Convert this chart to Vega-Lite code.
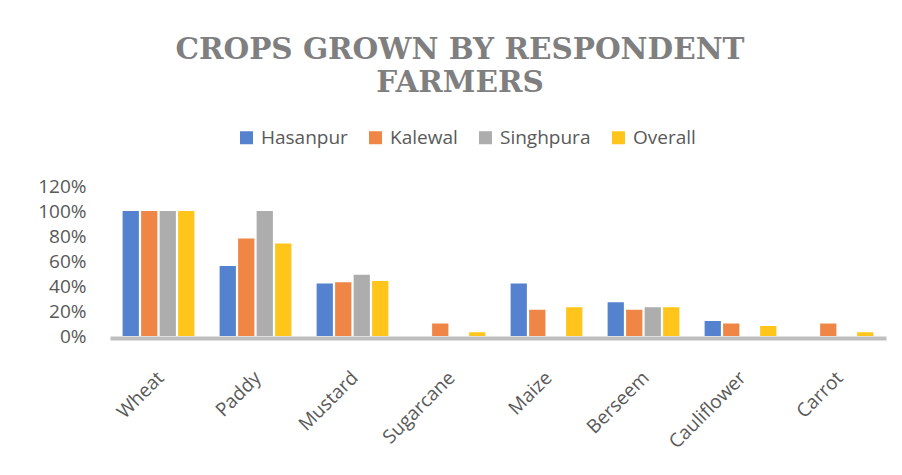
{
  "$schema": "https://vega.github.io/schema/vega-lite/v6.json",
  "autosize": "none",
  "width": 776,
  "height": 150,
  "padding": {"left": 110, "top": 186, "right": 16, "bottom": 139},
  "background": "white",
  "config": {"view": {"stroke": null}},
  "title": {
    "text": ["CROPS GROWN BY RESPONDENT", "FARMERS"],
    "font": "DejaVu Serif",
    "fontSize": 29.5,
    "fontWeight": "bold",
    "color": "#7F7F7F",
    "lineHeight": 33,
    "anchor": "middle",
    "dx": -38,
    "offset": 30
  },
  "data": {
    "values": [
      {"crop": "Wheat", "site": "Hasanpur", "share": 1.0},
      {"crop": "Wheat", "site": "Kalewal", "share": 1.0},
      {"crop": "Wheat", "site": "Singhpura", "share": 1.0},
      {"crop": "Wheat", "site": "Overall", "share": 1.0},
      {"crop": "Paddy", "site": "Hasanpur", "share": 0.56},
      {"crop": "Paddy", "site": "Kalewal", "share": 0.78},
      {"crop": "Paddy", "site": "Singhpura", "share": 1.0},
      {"crop": "Paddy", "site": "Overall", "share": 0.74},
      {"crop": "Mustard", "site": "Hasanpur", "share": 0.42},
      {"crop": "Mustard", "site": "Kalewal", "share": 0.43},
      {"crop": "Mustard", "site": "Singhpura", "share": 0.49},
      {"crop": "Mustard", "site": "Overall", "share": 0.44},
      {"crop": "Sugarcane", "site": "Hasanpur", "share": 0},
      {"crop": "Sugarcane", "site": "Kalewal", "share": 0.1},
      {"crop": "Sugarcane", "site": "Singhpura", "share": 0},
      {"crop": "Sugarcane", "site": "Overall", "share": 0.03},
      {"crop": "Maize", "site": "Hasanpur", "share": 0.42},
      {"crop": "Maize", "site": "Kalewal", "share": 0.21},
      {"crop": "Maize", "site": "Singhpura", "share": 0},
      {"crop": "Maize", "site": "Overall", "share": 0.23},
      {"crop": "Berseem", "site": "Hasanpur", "share": 0.27},
      {"crop": "Berseem", "site": "Kalewal", "share": 0.21},
      {"crop": "Berseem", "site": "Singhpura", "share": 0.23},
      {"crop": "Berseem", "site": "Overall", "share": 0.23},
      {"crop": "Cauliflower", "site": "Hasanpur", "share": 0.12},
      {"crop": "Cauliflower", "site": "Kalewal", "share": 0.1},
      {"crop": "Cauliflower", "site": "Singhpura", "share": 0},
      {"crop": "Cauliflower", "site": "Overall", "share": 0.08},
      {"crop": "Carrot", "site": "Hasanpur", "share": 0},
      {"crop": "Carrot", "site": "Kalewal", "share": 0.1},
      {"crop": "Carrot", "site": "Singhpura", "share": 0},
      {"crop": "Carrot", "site": "Overall", "share": 0.03}
    ]
  },
  "mark": {"type": "bar"},
  "encoding": {
    "x": {
      "field": "crop",
      "type": "nominal",
      "sort": ["Wheat", "Paddy", "Mustard", "Sugarcane", "Maize", "Berseem", "Cauliflower", "Carrot"],
      "scale": {"paddingInner": 0.26, "paddingOuter": 0.13},
      "axis": {
        "title": null,
        "labelAngle": -45,
        "labelFont": "Open Sans",
        "labelFontSize": 19,
        "labelColor": "#595959",
        "labelPadding": 30,
        "labelOffset": -4,
        "ticks": false,
        "domainColor": "#BFBFBF",
        "domainWidth": 4,
        "offset": 2
      }
    },
    "xOffset": {
      "field": "site",
      "type": "nominal",
      "sort": ["Hasanpur", "Kalewal", "Singhpura", "Overall"],
      "scale": {"paddingInner": 0.12, "paddingOuter": 0}
    },
    "y": {
      "field": "share",
      "type": "quantitative",
      "scale": {"domain": [0, 1.2], "nice": false},
      "axis": {
        "title": null,
        "values": [0, 0.2, 0.4, 0.6, 0.8, 1.0, 1.2],
        "format": ".0%",
        "grid": false,
        "ticks": false,
        "domain": false,
        "labelFont": "Open Sans",
        "labelFontSize": 19,
        "labelColor": "#595959",
        "labelPadding": 24
      }
    },
    "color": {
      "field": "site",
      "type": "nominal",
      "sort": ["Hasanpur", "Kalewal", "Singhpura", "Overall"],
      "scale": {
        "domain": ["Hasanpur", "Kalewal", "Singhpura", "Overall"],
        "range": ["#5582CE", "#EF8645", "#ADADAD", "#FFC51A"]
      },
      "legend": {
        "title": null,
        "orient": "none",
        "direction": "horizontal",
        "legendX": 127,
        "legendY": -58,
        "symbolType": "square",
        "symbolSize": 169,
        "symbolStrokeWidth": 0,
        "labelFont": "Open Sans",
        "labelFontSize": 19,
        "labelColor": "#595959",
        "labelOffset": 5,
        "columnPadding": 18
      }
    }
  }
}
